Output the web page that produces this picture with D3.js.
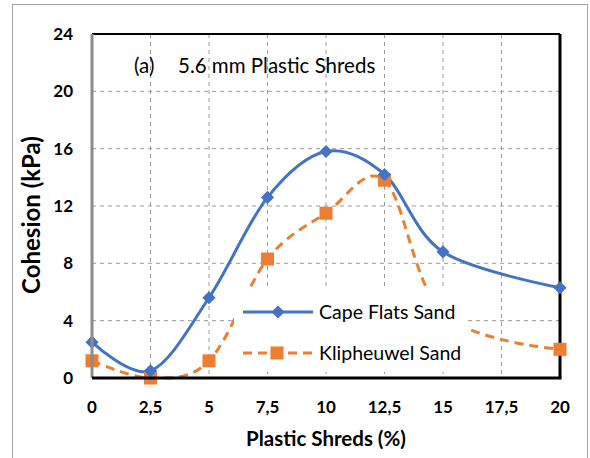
<!DOCTYPE html>
<html>
<head>
<meta charset="utf-8">
<script src="https://cdn.jsdelivr.net/npm/d3@7"></script>
<style>
  body { margin: 0; background: #fff; }
  text { font-family: Lato, "Open Sans", sans-serif; }
</style>
</head>
<body>
<svg id="chart"></svg>
<script>
const width = 590;
const height = 458;

// data
const xValues = [0, 2.5, 5, 7.5, 10, 12.5, 15, 20];
const capeFlats = [2.5, 0.5, 5.6, 12.6, 15.8, 14.2, 8.8, 6.3];
const klipheuwel = [1.2, 0, 1.2, 8.3, 11.5, 13.8, 4.5, 2.0];
const xTicks = [0, 2.5, 5, 7.5, 10, 12.5, 15, 17.5, 20];
const yTicks = [0, 4, 8, 12, 16, 20, 24];
const seriesNames = ["Cape Flats Sand", "Klipheuwel Sand"];

const plot = { left: 92, right: 560, top: 34, bottom: 378 };

const svg = d3.select("#chart")
    .attr("width", width)
    .attr("height", height);

// outer chart border
svg.append("rect")
    .attr("x", 12.5).attr("y", 4.5)
    .attr("width", 575).attr("height", 460)
    .attr("fill", "#fff")
    .attr("stroke", "#a6a6a6");

const x = d3.scaleLinear().domain([0, 20]).range([plot.left, plot.right]);
const y = d3.scaleLinear().domain([0, 24]).range([plot.bottom, plot.top]);

// gridlines
svg.append("g")
    .selectAll("line")
    .data(yTicks.slice(1, -1))
    .join("line")
    .attr("x1", plot.left).attr("x2", plot.right)
    .attr("y1", d => y(d)).attr("y2", d => y(d))
    .attr("stroke", "#9a9a9a")
    .attr("stroke-dasharray", "4,4");

svg.append("g")
    .selectAll("line")
    .data(xTicks.slice(1, -1))
    .join("line")
    .attr("x1", d => x(d)).attr("x2", d => x(d))
    .attr("y1", plot.top).attr("y2", plot.bottom)
    .attr("stroke", "#9a9a9a")
    .attr("stroke-dasharray", "4,4");

// plot frame
svg.append("line")
    .attr("x1", plot.left).attr("x2", plot.right)
    .attr("y1", plot.top).attr("y2", plot.top)
    .attr("stroke", "#000").attr("stroke-width", 2);
svg.append("line")
    .attr("x1", plot.right).attr("x2", plot.right)
    .attr("y1", plot.top).attr("y2", plot.bottom)
    .attr("stroke", "#000").attr("stroke-width", 3);

const line = d3.line()
    .x(d => x(d[0]))
    .y(d => y(d[1]))
    .curve(d3.curveCardinal.tension(0));

const cape = xValues.map((v, i) => [v, capeFlats[i]]);
const klip = xValues.map((v, i) => [v, klipheuwel[i]]);

svg.append("path")
    .datum(klip)
    .attr("d", line)
    .attr("fill", "none")
    .attr("stroke", "#ed7d31")
    .attr("stroke-width", 3)
    .attr("stroke-dasharray", "9,6");

svg.append("path")
    .datum(cape)
    .attr("d", line)
    .attr("fill", "none")
    .attr("stroke", "#4472c4")
    .attr("stroke-width", 3);

svg.append("g")
    .selectAll("rect")
    .data(klip)
    .join("rect")
    .attr("x", d => x(d[0]) - 6.5)
    .attr("y", d => y(d[1]) - 6.5)
    .attr("width", 13).attr("height", 13)
    .attr("fill", "#ed7d31");

const diamond = d3.symbol().type(d3.symbolDiamond2).size(110);
svg.append("g")
    .selectAll("path")
    .data(cape)
    .join("path")
    .attr("transform", d => `translate(${x(d[0])},${y(d[1])})`)
    .attr("d", diamond)
    .attr("fill", "#4472c4");

// axes
svg.append("line")
    .attr("x1", plot.left).attr("x2", plot.left)
    .attr("y1", plot.top).attr("y2", plot.bottom)
    .attr("stroke", "#8c8c8c").attr("stroke-width", 3);
svg.append("line")
    .attr("x1", plot.left).attr("x2", plot.right + 1.5)
    .attr("y1", plot.bottom).attr("y2", plot.bottom)
    .attr("stroke", "#000").attr("stroke-width", 3);

const fmt = d => String(d).replace(".", ",");

svg.append("g")
    .selectAll("text")
    .data(yTicks)
    .join("text")
    .attr("x", 73)
    .attr("y", d => y(d))
    .attr("dy", "0.35em")
    .attr("text-anchor", "end")
    .attr("font-size", 17)
    .attr("font-weight", "bold")
    .text(d => d);

svg.append("g")
    .selectAll("text")
    .data(xTicks)
    .join("text")
    .attr("x", d => x(d))
    .attr("y", 407)
    .attr("dy", "0.35em")
    .attr("text-anchor", "middle")
    .attr("font-size", 17)
    .attr("font-weight", "bold")
    .text(fmt);

svg.append("text")
    .attr("x", 326)
    .attr("y", 439)
    .attr("dy", "0.35em")
    .attr("text-anchor", "middle")
    .attr("font-size", 20.5)
    .attr("font-weight", "bold")
    .text("Plastic Shreds (%)");

svg.append("text")
    .attr("transform", "translate(32,215) rotate(-90)")
    .attr("dy", "0.35em")
    .attr("text-anchor", "middle")
    .attr("font-size", 24)
    .attr("font-weight", "bold")
    .text("Cohesion (kPa)");

svg.append("text")
    .attr("x", 134)
    .attr("y", 73)
    .attr("font-size", 20.5)
    .text("(a)");
svg.append("text")
    .attr("x", 178)
    .attr("y", 73)
    .attr("font-size", 20.5)
    .text("5.6 mm Plastic Shreds");

// legend
const legend = svg.append("g").attr("transform", "translate(234,289)");
legend.append("rect")
    .attr("width", 234).attr("height", 83)
    .attr("fill", "#fff");

const legendRows = legend.selectAll("g")
    .data(seriesNames)
    .join("g")
    .attr("transform", (d, i) => `translate(0,${23 + i * 41})`);

legendRows.append("line")
    .attr("x1", 9).attr("x2", 79)
    .attr("stroke", (d, i) => i === 0 ? "#4472c4" : "#ed7d31")
    .attr("stroke-width", 3)
    .attr("stroke-dasharray", (d, i) => i === 0 ? null : "9,6");

legendRows.filter((d, i) => i === 0)
    .append("path")
    .attr("transform", "translate(44,0)")
    .attr("d", diamond)
    .attr("fill", "#4472c4");

legendRows.filter((d, i) => i === 1)
    .append("rect")
    .attr("x", 36.5).attr("y", -6.5)
    .attr("width", 13).attr("height", 13)
    .attr("fill", "#ed7d31");

legendRows.append("text")
    .attr("x", 85)
    .attr("dy", "0.35em")
    .attr("font-size", 19.5)
    .text(d => d);
</script>
</body>
</html>
